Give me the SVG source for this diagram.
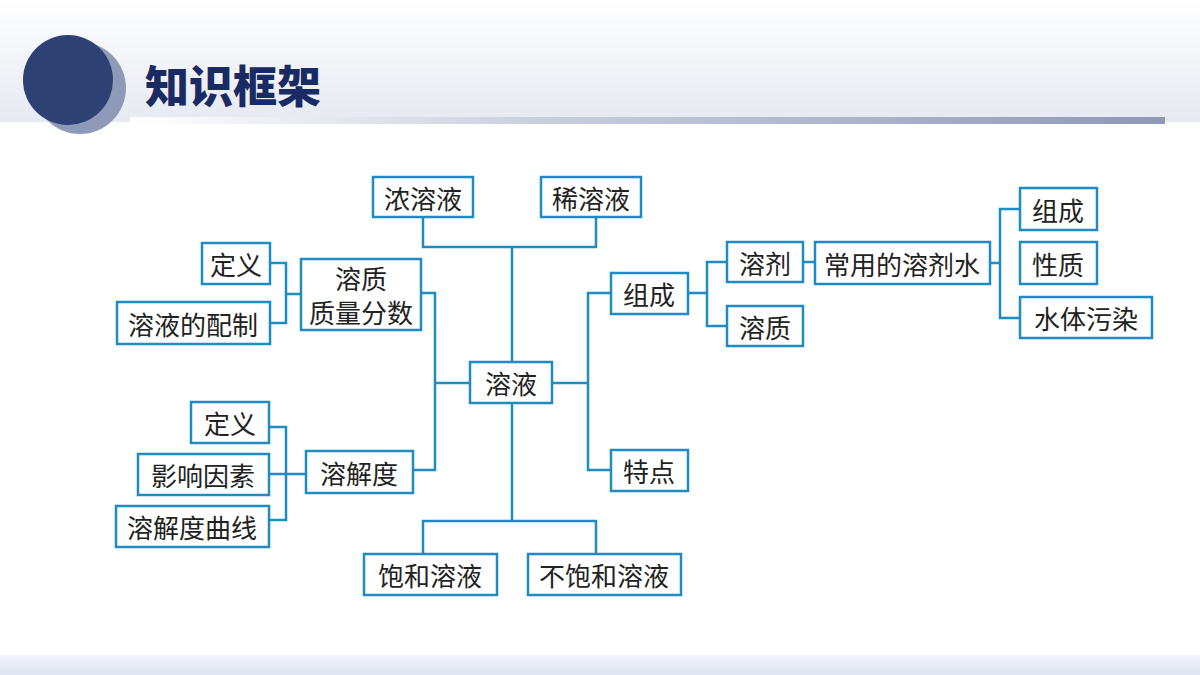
<svg xmlns="http://www.w3.org/2000/svg" width="1200" height="675" viewBox="0 0 1200 675">
<defs>
<linearGradient id="hd" x1="0" y1="0" x2="0" y2="1"><stop offset="0" stop-color="#ffffff"/><stop offset="1" stop-color="#e6e9f1"/></linearGradient>
<linearGradient id="bar" x1="0" y1="0" x2="1" y2="0"><stop offset="0" stop-color="#ffffff"/><stop offset="0.4" stop-color="#c9cedd"/><stop offset="1" stop-color="#8f98b8"/></linearGradient>
<linearGradient id="ft" x1="0" y1="0" x2="0" y2="1"><stop offset="0" stop-color="#f2f4fa"/><stop offset="1" stop-color="#dde3f0"/></linearGradient>
<style>
.n rect{fill:#fff;stroke:#1e8bc3;stroke-width:2.5}
.n text{font-family:"Noto Sans CJK SC",sans-serif;font-size:26px;fill:#222;text-anchor:middle;dominant-baseline:central}
#c path{fill:none;stroke:#1e8bc3;stroke-width:2.5}
</style>
</defs>
<rect width="1200" height="675" fill="#fff"/>
<rect x="0" y="0" width="1200" height="122" fill="url(#hd)"/>
<rect x="130" y="117" width="1035" height="7" fill="url(#bar)"/>
<circle cx="80" cy="88" r="46" fill="#8e9ab8"/>
<circle cx="68" cy="80" r="45" fill="#2e4174"/>
<text x="145" y="103" font-family="'Noto Sans CJK SC',sans-serif" font-size="44" font-weight="900" fill="#1a2a62">知识框架</text>
<rect x="0" y="655" width="1200" height="20" fill="url(#ft)"/>
<g id="c">
<path d="M423 217V247H596V217M512 247V362"/>
<path d="M512 403V521M423 554V521H596V554"/>
<path d="M270 263H286V323H270M286 294H301"/>
<path d="M421 293H435V470H413M435 383H470"/>
<path d="M269 427H286V520H269M269 474H306"/>
<path d="M552 383H588M611 293H588V470H611"/>
<path d="M688 293H707M727 262H707V326H727"/>
<path d="M803 262H815"/>
<path d="M990 263H1000M1020 209H1000V318H1020"/>
</g>
<g id="n1" class="n"><rect x="373" y="177" width="100" height="40"/><text x="423" y="197">浓溶液</text></g>
<g id="n2" class="n"><rect x="541" y="177" width="100" height="40"/><text x="591" y="197">稀溶液</text></g>
<g id="n3" class="n"><rect x="470" y="362" width="82" height="41"/><text x="511" y="382">溶液</text></g>
<g id="n4" class="n"><rect x="202" y="243" width="68" height="41"/><text x="236" y="263">定义</text></g>
<g id="n5" class="n"><rect x="117" y="302" width="153" height="42"/><text x="193" y="323">溶液的配制</text></g>
<g id="n6" class="n"><rect x="301" y="259" width="120" height="71"/><text x="361" y="277">溶质</text><text x="361" y="311">质量分数</text></g>
<g id="n7" class="n"><rect x="306" y="451" width="107" height="42"/><text x="359" y="472">溶解度</text></g>
<g id="n8" class="n"><rect x="191" y="402" width="78" height="41"/><text x="230" y="422">定义</text></g>
<g id="n9" class="n"><rect x="138" y="454" width="131" height="41"/><text x="203" y="474">影响因素</text></g>
<g id="n10" class="n"><rect x="116" y="506" width="153" height="41"/><text x="192" y="526">溶解度曲线</text></g>
<g id="n11" class="n"><rect x="364" y="554" width="133" height="41"/><text x="430" y="574">饱和溶液</text></g>
<g id="n12" class="n"><rect x="528" y="554" width="153" height="41"/><text x="604" y="574">不饱和溶液</text></g>
<g id="n13" class="n"><rect x="611" y="273" width="77" height="41"/><text x="649" y="293">组成</text></g>
<g id="n14" class="n"><rect x="611" y="450" width="77" height="41"/><text x="649" y="470">特点</text></g>
<g id="n15" class="n"><rect x="727" y="242" width="76" height="40"/><text x="765" y="262">溶剂</text></g>
<g id="n16" class="n"><rect x="727" y="306" width="76" height="40"/><text x="765" y="326">溶质</text></g>
<g id="n17" class="n"><rect x="815" y="242" width="175" height="42"/><text x="902" y="263">常用的溶剂水</text></g>
<g id="n18" class="n"><rect x="1020" y="188" width="77" height="42"/><text x="1058" y="209">组成</text></g>
<g id="n19" class="n"><rect x="1020" y="242" width="77" height="42"/><text x="1058" y="263">性质</text></g>
<g id="n20" class="n"><rect x="1020" y="297" width="132" height="41"/><text x="1086" y="317">水体污染</text></g>
</svg>
